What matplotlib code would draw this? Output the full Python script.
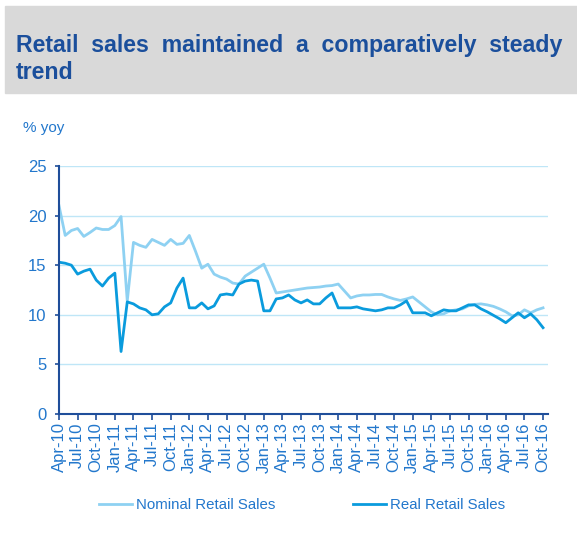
import matplotlib
matplotlib.use('Agg')
import matplotlib.pyplot as plt
from matplotlib.patches import Rectangle

plt.rcParams['font.family'] = ['Liberation Sans', 'DejaVu Sans']

# Monthly yoy growth, Apr-10 .. Oct-16
nominal = [21.0, 18.0, 18.5, 18.7, 17.9, 18.3, 18.75, 18.6, 18.6, 19.0,
           19.9, 11.4, 17.3, 17.0, 16.8, 17.6, 17.3, 17.0, 17.6, 17.1,
           17.2, 18.0, 16.4, 14.7, 15.1, 14.1, 13.8, 13.6, 13.2, 13.1,
           13.9, 14.3, 14.7, 15.1, 13.7, 12.2, 12.3, 12.4, 12.5, 12.6,
           12.7, 12.75, 12.8, 12.9, 12.95, 13.1, 12.4, 11.7, 11.9, 12.0,
           12.0, 12.05, 12.05, 11.8, 11.6, 11.45, 11.6, 11.8, 11.3, 10.8,
           10.3, 10.0, 10.1, 10.4, 10.5, 10.6, 10.9, 11.05, 11.1, 11.0,
           10.85, 10.6, 10.3, 9.9, 10.0, 10.5, 10.2, 10.5, 10.7]

real = [15.3, 15.2, 15.0, 14.1, 14.4, 14.6, 13.5, 12.9, 13.7, 14.2,
        6.3, 11.3, 11.1, 10.7, 10.5, 10.0, 10.1, 10.8, 11.2, 12.7,
        13.7, 10.7, 10.7, 11.2, 10.6, 10.9, 12.0, 12.1, 12.0, 13.1,
        13.4, 13.5, 13.4, 10.4, 10.4, 11.6, 11.7, 12.0, 11.5, 11.2,
        11.5, 11.1, 11.1, 11.7, 12.2, 10.7, 10.7, 10.7, 10.8, 10.6,
        10.5, 10.4, 10.5, 10.7, 10.7, 11.0, 11.4, 10.2, 10.2, 10.2,
        9.9, 10.2, 10.5, 10.4, 10.4, 10.7, 11.0, 11.0, 10.6, 10.3,
        9.95, 9.6, 9.2, 9.7, 10.2, 9.7, 10.1, 9.5, 8.7]

tick_labels = ['Apr-10', 'Jul-10', 'Oct-10', 'Jan-11', 'Apr-11', 'Jul-11',
               'Oct-11', 'Jan-12', 'Apr-12', 'Jul-12', 'Oct-12', 'Jan-13',
               'Apr-13', 'Jul-13', 'Oct-13', 'Jan-14', 'Apr-14', 'Jul-14',
               'Oct-14', 'Jan-15', 'Apr-15', 'Jul-15', 'Oct-15', 'Jan-16',
               'Apr-16', 'Jul-16', 'Oct-16']

months = list(range(len(real)))

title_col = '#1B4F9C'
text_col = '#2277CC'
axis_col = '#1F4E9A'
grid_col = '#BFE6F7'
nominal_col = '#8ED1F2'
real_col = '#0A9BDD'

fig = plt.figure(figsize=(5.77, 5.36), dpi=100)

# grey header band
fig.patches.append(Rectangle((5 / 577, 1 - 93 / 536), 1, 87 / 536,
                             transform=fig.transFigure, color='#D9D9D9', zorder=0))
fig.text(16 / 577, 1 - 52 / 536, 'Retail  sales  maintained  a  comparatively  steady',
         fontsize=16.7, weight='bold', color=title_col, va='baseline')
fig.text(16 / 577, 1 - 79 / 536, 'trend',
         fontsize=16.7, weight='bold', color=title_col, va='baseline')

fig.text(23 / 577, 1 - 132 / 536, '% yoy', fontsize=11, color=text_col, va='baseline')

ax = fig.add_axes([59 / 577, 122 / 536, 489 / 577, 248 / 536])
ax.plot(months, nominal, color=nominal_col, lw=2, label='Nominal Retail Sales')
ax.plot(months, real, color=real_col, lw=2, label='Real Retail Sales')

ax.set_xlim(0, 78.8)
ax.set_ylim(0, 25)
ax.set_yticks(range(0, 26, 5))
ax.set_xticks(months[::3])
ax.set_xticklabels(tick_labels)

ax.grid(axis='y', color=grid_col, lw=1)
ax.set_axisbelow(True)
for side in ['top', 'right']:
    ax.spines[side].set_visible(False)
for side in ['left', 'bottom']:
    ax.spines[side].set_color(axis_col)
    ax.spines[side].set_linewidth(1.5)

ax.tick_params(axis='x', length=4, width=1.2, color=axis_col, labelsize=12,
               labelcolor=text_col, pad=2, labelrotation=90)
ax.tick_params(axis='y', length=3, width=1.2, color=axis_col, labelsize=12,
               labelcolor=text_col, pad=6)

fig.legend(loc='center left', bbox_to_anchor=(99 / 577, 31 / 536), ncol=2,
           frameon=False, handlelength=2.2, handletextpad=0.25, columnspacing=5.2,
           borderpad=0, borderaxespad=0, fontsize=10.8, labelcolor=text_col)

fig.savefig('out.png', dpi=100)
